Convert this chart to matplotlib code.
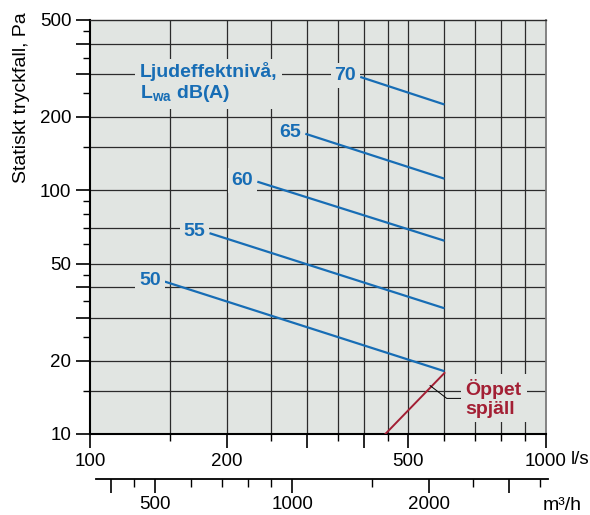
import numpy as np
import matplotlib
matplotlib.use("Agg")
import matplotlib.pyplot as plt
from matplotlib.ticker import FixedLocator, FuncFormatter, NullFormatter, NullLocator

plt.rcParams["font.family"] = ["Liberation Sans", "DejaVu Sans"]
plt.rcParams["mathtext.fontset"] = "custom"
plt.rcParams["mathtext.rm"] = "Liberation Sans"
plt.rcParams["mathtext.bf"] = "Liberation Sans:bold"

BG = "#e1e5e2"
BLUE = "#176db5"
RED = "#a31f34"
GRID = "#2b2b2b"

# Ljudeffektnivå-linjer: flöde (l/s) -> statiskt tryckfall (Pa)
levels = ["50", "55", "60", "65", "70"]
flow_start = [146, 183, 233, 297, 392]
flow_end = [600, 600, 600, 600, 600]
pa_start = [42.2, 66.7, 108.5, 170.7, 292]
pa_end = [18.1, 32.8, 62.1, 111.6, 225]

# Öppet spjäll
damper_flow = [445, 600]
damper_pa = [10, 17.8]
leader_flow = [558, 607, 655]
leader_pa = [15.8, 14.0, 14.0]

grid_x = [150, 200, 250, 300, 350, 400, 450, 500, 600, 700, 800, 900]
grid_y = [15, 20, 30, 40, 50, 70, 100, 150, 200, 300, 400]

x_major = [100, 200, 300, 400, 500, 1000]
x_minor = [150, 250, 350, 450, 600, 700, 800, 900]
x_labels = [100, 200, 500, 1000]
y_major = [10, 20, 30, 40, 50, 100, 200, 300, 400, 500]
y_minor = [15, 25, 35, 45, 60, 70, 80, 90, 150, 250, 350, 450]
y_labels = [10, 20, 50, 100, 200, 500]
m3h_major = [400, 500, 1000, 2000, 3000]
m3h_minor = [450, 600, 700, 800, 900, 1500, 2500, 3500]
m3h_labels = [500, 1000, 2000]

W, H = 590, 515
fig = plt.figure(figsize=(W / 100, H / 100), dpi=100)
L, R, T, B = 90, 545.5, 20, 434
ax = fig.add_axes([L / W, 1 - B / H, (R - L) / W, (B - T) / H])
ax.set_xscale("log")
ax.set_yscale("log")
ax.set_xlim(100, 1000)
ax.set_ylim(10, 500)
ax.set_facecolor(BG)

for v in grid_x:
    ax.axvline(v, color=GRID, lw=0.9, zorder=1)
for v in grid_y:
    ax.axhline(v, color=GRID, lw=0.9, zorder=1)


def only(vals):
    return FuncFormatter(lambda v, p: f"{v:g}" if any(abs(v - s) < 1e-6 for s in vals) else "")


ax.xaxis.set_major_locator(FixedLocator(x_major))
ax.xaxis.set_minor_locator(FixedLocator(x_minor))
ax.xaxis.set_major_formatter(only(x_labels))
ax.xaxis.set_minor_formatter(NullFormatter())
ax.yaxis.set_major_locator(FixedLocator(y_major))
ax.yaxis.set_minor_locator(FixedLocator(y_minor))
ax.yaxis.set_major_formatter(only(y_labels))
ax.yaxis.set_minor_formatter(NullFormatter())
ax.tick_params(which="major", length=10, width=1.2, labelsize=13.5, pad=3.5, color="black")
ax.tick_params(which="minor", length=4.8, width=1.0, color="black")

for side in ["left", "bottom"]:
    ax.spines[side].set_linewidth(1.5)
    ax.spines[side].set_color("black")
ax.spines["top"].set_color(GRID)
ax.spines["top"].set_linewidth(1.0)
ax.spines["right"].set_color("#7a7a7a")
ax.spines["right"].set_linewidth(1.3)

# blå linjer med nivåetiketter
for lev, fs, fe, ps, pe in zip(levels, flow_start, flow_end, pa_start, pa_end):
    ax.plot([fs, fe], [ps, pe], color=BLUE, lw=1.6, solid_capstyle="butt", zorder=3)
    ax.annotate(lev, xy=(fs, ps), xytext=(-3, 1), textcoords="offset points",
                ha="right", va="center", color=BLUE, fontsize=14, fontweight="bold",
                bbox=dict(boxstyle="square,pad=0.2", fc=BG, ec="none"), zorder=4)

ax.text((140 - L) / (R - L), 1 - (62 - T) / (B - T),
        "Ljudeffektnivå,\nL$_{\\mathbf{wa}}$ dB(A)", transform=ax.transAxes,
        ha="left", va="top", color=BLUE, fontsize=14, fontweight="bold", linespacing=1.12,
        bbox=dict(boxstyle="square,pad=0.25", fc=BG, ec="none"), zorder=4)

# öppet spjäll
ax.plot(damper_flow, damper_pa, color=RED, lw=1.4, zorder=3)
ax.plot(leader_flow, leader_pa, color="black", lw=0.7, zorder=3)
ax.text(668, 14, "Öppet\nspjäll", ha="left", va="center", color=RED, fontsize=14,
        fontweight="bold", linespacing=1.1,
        bbox=dict(boxstyle="square,pad=0.25", fc=BG, ec="none"), zorder=4)

fig.text(22 / W, 1 - 12 / H, "Statiskt tryckfall, Pa", rotation=90,
         ha="center", va="top", fontsize=14)
fig.text(571 / W, 1 - 460 / H, "l/s", ha="left", va="center", fontsize=13.5)

# m3/h-skala
x0, x1 = 96, 548
ax2 = fig.add_axes([x0 / W, 1 - 479 / H, (x1 - x0) / W, 0.0002])
ax2.set_xscale("log")
ax2.set_xlim(360 * 10 ** ((x0 - L) / (R - L)), 360 * 10 ** ((x1 - L) / (R - L)))
ax2.patch.set_visible(False)
for side in ["left", "right", "top"]:
    ax2.spines[side].set_visible(False)
ax2.spines["bottom"].set_linewidth(1.3)
ax2.yaxis.set_major_locator(NullLocator())
ax2.yaxis.set_minor_locator(NullLocator())
ax2.xaxis.set_major_locator(FixedLocator(m3h_major))
ax2.xaxis.set_minor_locator(FixedLocator(m3h_minor))
ax2.xaxis.set_major_formatter(only(m3h_labels))
ax2.xaxis.set_minor_formatter(NullFormatter())
ax2.tick_params(which="major", length=10, width=1.2, labelsize=13.5, pad=2.5)
ax2.tick_params(which="minor", length=5.5, width=1.0)
fig.text(543 / W, 1 - 505 / H, "m³/h", ha="left", va="center", fontsize=14)

fig.savefig("out.png", dpi=100, facecolor="white")
